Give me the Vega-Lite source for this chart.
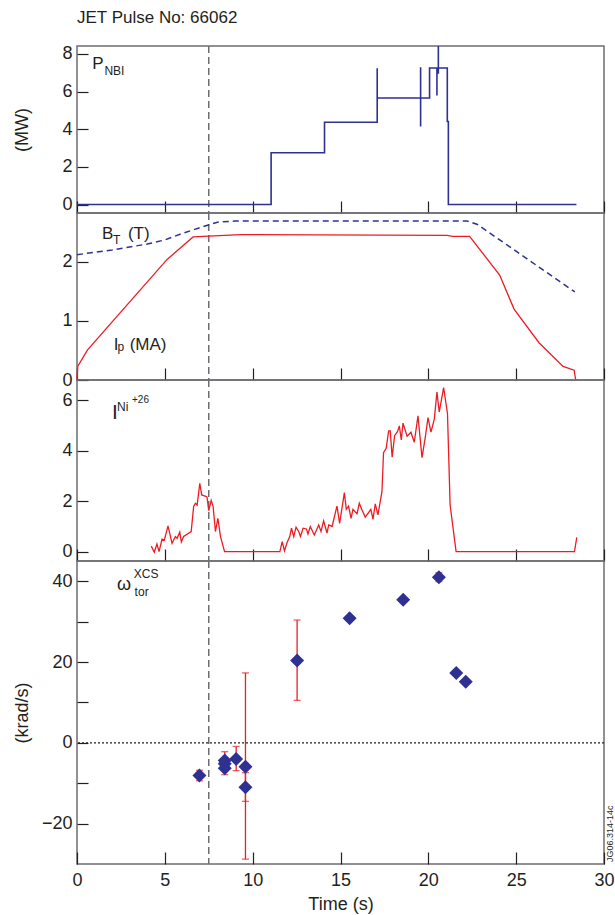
{
  "$schema": "https://vega.github.io/schema/vega-lite/v6.json",
  "padding": {"left": 12, "top": 9, "right": 5, "bottom": 5},
  "spacing": 0,
  "bounds": "flush",
  "title": {"text": "JET Pulse No: 66062", "anchor": "start", "frame": "group", "fontSize": 17, "fontWeight": "normal", "color": "#231f20", "offset": 17},
  "config": {
    "font": "Liberation Sans",
    "view": {"stroke": "#6d6e71", "strokeWidth": 1.5},
    "axis": {"grid": false, "labelFontSize": 18, "labelColor": "#231f20", "titleFontSize": 18, "titleFontWeight": "normal", "titleColor": "#231f20", "labelFlush": false, "labelOverlap": false, "labelBound": false, "tickColor": "#231f20", "tickWidth": 1.2, "domain": false}
  },
  "datasets": {
    "marker": [{"t": 7.5}],
    "zero": [{"v": 0}],
    "pnbi": [
      {"i": 0, "t": 0, "v": 0}, {"i": 1, "t": 11.05, "v": 0}, {"i": 2, "t": 11.05, "v": 2.75}, {"i": 3, "t": 14.09, "v": 2.75},
      {"i": 4, "t": 14.09, "v": 4.37}, {"i": 5, "t": 17.09, "v": 4.37}, {"i": 6, "t": 17.09, "v": 7.24}, {"i": 7, "t": 17.09, "v": 5.66},
      {"i": 8, "t": 19.56, "v": 5.66}, {"i": 9, "t": 19.56, "v": 7.29}, {"i": 10, "t": 19.56, "v": 4.14}, {"i": 11, "t": 19.56, "v": 5.66},
      {"i": 12, "t": 20.07, "v": 5.66}, {"i": 13, "t": 20.07, "v": 7.25}, {"i": 14, "t": 20.49, "v": 7.25}, {"i": 15, "t": 20.49, "v": 5.79},
      {"i": 16, "t": 20.49, "v": 7.25}, {"i": 17, "t": 20.57, "v": 7.25}, {"i": 18, "t": 20.57, "v": 8.42}, {"i": 19, "t": 20.57, "v": 6.94},
      {"i": 20, "t": 20.57, "v": 7.25}, {"i": 21, "t": 21.08, "v": 7.25}, {"i": 22, "t": 21.08, "v": 4.41}, {"i": 23, "t": 21.14, "v": 4.41},
      {"i": 24, "t": 21.14, "v": 0}, {"i": 25, "t": 28.43, "v": 0}
    ],
    "bt": [
      {"t": 0, "v": 2.12}, {"t": 2, "v": 2.2}, {"t": 4, "v": 2.3}, {"t": 5, "v": 2.37}, {"t": 6, "v": 2.48}, {"t": 7.56, "v": 2.63},
      {"t": 8, "v": 2.67}, {"t": 9, "v": 2.69}, {"t": 22.2, "v": 2.69}, {"t": 22.8, "v": 2.63}, {"t": 28.34, "v": 1.49}
    ],
    "ip": [
      {"t": 0, "v": 0}, {"t": 0.04, "v": 0.23}, {"t": 0.6, "v": 0.51}, {"t": 5.13, "v": 2.04}, {"t": 6.61, "v": 2.42}, {"t": 9.3, "v": 2.46},
      {"t": 21.08, "v": 2.445}, {"t": 21.37, "v": 2.43}, {"t": 22.35, "v": 2.43}, {"t": 24.06, "v": 1.775}, {"t": 24.88, "v": 1.2},
      {"t": 26.3, "v": 0.63}, {"t": 27.67, "v": 0.23}, {"t": 28.3, "v": 0.165}, {"t": 28.39, "v": 0}
    ],
    "ni": [
      {"t": 4.23, "v": 0.22}, {"t": 4.4, "v": -0.02}, {"t": 4.55, "v": 0.3}, {"t": 4.67, "v": 0.0}, {"t": 4.84, "v": 0.5}, {"t": 4.97, "v": 0.46},
      {"t": 5.18, "v": 1.02}, {"t": 5.41, "v": 0.33}, {"t": 5.6, "v": 0.6}, {"t": 5.7, "v": 0.53}, {"t": 5.85, "v": 0.78}, {"t": 5.94, "v": 0.39},
      {"t": 6.07, "v": 0.6}, {"t": 6.5, "v": 0.8}, {"t": 6.64, "v": 1.79}, {"t": 6.74, "v": 1.92}, {"t": 6.84, "v": 1.85}, {"t": 6.99, "v": 2.71},
      {"t": 7.1, "v": 2.25}, {"t": 7.29, "v": 2.2}, {"t": 7.4, "v": 2.17}, {"t": 7.5, "v": 1.63}, {"t": 7.64, "v": 2.03}, {"t": 7.75, "v": 1.79},
      {"t": 7.88, "v": 0.8}, {"t": 8.02, "v": 1.32}, {"t": 8.17, "v": 0.6}, {"t": 8.4, "v": 0.0}, {"t": 11.55, "v": 0.0}, {"t": 11.68, "v": 0.4},
      {"t": 11.81, "v": 0.03}, {"t": 11.96, "v": 0.36}, {"t": 12.11, "v": 0.6}, {"t": 12.21, "v": 0.93}, {"t": 12.34, "v": 0.6}, {"t": 12.47, "v": 0.97},
      {"t": 12.62, "v": 0.8}, {"t": 12.72, "v": 0.6}, {"t": 12.87, "v": 0.93}, {"t": 13.06, "v": 0.9}, {"t": 13.15, "v": 0.7}, {"t": 13.28, "v": 1.0},
      {"t": 13.51, "v": 0.66}, {"t": 13.76, "v": 1.06}, {"t": 13.89, "v": 0.8}, {"t": 14.04, "v": 1.22}, {"t": 14.23, "v": 0.74}, {"t": 14.33, "v": 1.06},
      {"t": 14.52, "v": 1.0}, {"t": 14.8, "v": 1.81}, {"t": 14.95, "v": 1.12}, {"t": 15.22, "v": 2.34}, {"t": 15.33, "v": 1.68}, {"t": 15.46, "v": 1.81},
      {"t": 15.6, "v": 1.32}, {"t": 15.71, "v": 1.68}, {"t": 15.94, "v": 1.5}, {"t": 16.07, "v": 1.92}, {"t": 16.22, "v": 1.66}, {"t": 16.41, "v": 1.37},
      {"t": 16.73, "v": 1.68}, {"t": 16.85, "v": 1.28}, {"t": 16.98, "v": 1.9}, {"t": 17.13, "v": 1.46}, {"t": 17.36, "v": 2.38}, {"t": 17.45, "v": 3.93},
      {"t": 17.6, "v": 4.1}, {"t": 17.74, "v": 4.79}, {"t": 17.83, "v": 4.79}, {"t": 17.94, "v": 3.75}, {"t": 18.08, "v": 4.6}, {"t": 18.25, "v": 4.77},
      {"t": 18.35, "v": 4.99}, {"t": 18.46, "v": 4.43}, {"t": 18.56, "v": 5.1}, {"t": 18.79, "v": 4.58}, {"t": 19.01, "v": 4.74}, {"t": 19.2, "v": 4.34},
      {"t": 19.41, "v": 5.39}, {"t": 19.64, "v": 3.73}, {"t": 19.83, "v": 4.55}, {"t": 19.98, "v": 5.32}, {"t": 20.15, "v": 4.74}, {"t": 20.34, "v": 5.26},
      {"t": 20.49, "v": 6.33}, {"t": 20.62, "v": 5.54}, {"t": 20.87, "v": 6.51}, {"t": 21.09, "v": 5.48}, {"t": 21.24, "v": 1.85}, {"t": 21.58, "v": 0.0},
      {"t": 28.32, "v": 0.0}, {"t": 28.45, "v": 0.57}
    ],
    "omega": [
      {"t": 6.97, "v": -8.1}, {"t": 8.41, "v": -4.4}, {"t": 8.41, "v": -5.2}, {"t": 8.41, "v": -6.3}, {"t": 9.06, "v": -4.0},
      {"t": 9.59, "v": -5.9}, {"t": 9.59, "v": -11.0}, {"t": 12.53, "v": 20.4}, {"t": 15.52, "v": 30.8}, {"t": 18.57, "v": 35.4},
      {"t": 20.6, "v": 41.0}, {"t": 21.59, "v": 17.3}, {"t": 22.13, "v": 15.1}
    ],
    "err": [
      {"t": 6.97, "lo": -9.4, "hi": -6.8}, {"t": 8.41, "lo": -7.9, "hi": -2.2}, {"t": 9.06, "lo": -6.9, "hi": -0.9},
      {"t": 9.59, "lo": -28.8, "hi": 17.3}, {"t": 9.59, "lo": -14.5, "hi": -7.4}, {"t": 12.53, "lo": 10.5, "hi": 30.4},
      {"t": 20.6, "lo": 39.9, "hi": 42.1}
    ],
    "labels": [
      {"p": 1, "k": "main", "t": 0.87, "v": 7.19, "txt": "P"},
      {"p": 1, "k": "sub", "t": 1.56, "v": 6.89, "txt": "NBI"},
      {"p": 2, "k": "main", "t": 1.42, "v": 2.39, "txt": "B"},
      {"p": 2, "k": "sub", "t": 2.05, "v": 2.305, "txt": "T"},
      {"p": 2, "k": "main", "t": 2.9, "v": 2.39, "txt": "(T)"},
      {"p": 2, "k": "main", "t": 2.09, "v": 0.514, "txt": "I"},
      {"p": 2, "k": "sub", "t": 2.3, "v": 0.486, "txt": "p"},
      {"p": 2, "k": "main", "t": 3.0, "v": 0.514, "txt": "(MA)"},
      {"p": 3, "k": "big", "t": 1.99, "v": 5.27, "txt": "I"},
      {"p": 3, "k": "sub", "t": 2.28, "v": 5.59, "txt": "Ni"},
      {"p": 3, "k": "tiny", "t": 3.13, "v": 5.89, "txt": "+26"},
      {"p": 4, "k": "main", "t": 2.28, "v": 37.8, "txt": "ω"},
      {"p": 4, "k": "sub", "t": 3.28, "v": 36.3, "txt": "tor"},
      {"p": 4, "k": "sub", "t": 3.23, "v": 40.7, "txt": "XCS"},
      {"p": 4, "k": "side", "t": 30.33, "v": -29.5, "txt": "JG06.314-14c"}
    ]
  },
  "vconcat": [
    {
      "width": 527, "height": 167,
      "layer": [
        {"data": {"name": "marker"}, "mark": {"type": "rule", "color": "#6d6e71", "strokeWidth": 1.5, "strokeDash": [7, 4]},
         "encoding": {"x": {"field": "t", "type": "quantitative", "scale": {"domain": [0, 30], "nice": false, "zero": false},
           "axis": {"values": [0, 5, 10, 15, 20, 25, 30], "labels": false, "title": null, "tickSize": -12}}}},
        {"data": {"name": "pnbi"}, "mark": {"type": "line", "color": "#2e3192", "strokeWidth": 1.6, "clip": true},
         "encoding": {"x": {"field": "t", "type": "quantitative"}, "order": {"field": "i", "type": "quantitative"},
           "y": {"field": "v", "type": "quantitative", "scale": {"domain": [-0.45, 8.42], "nice": false, "zero": false},
             "axis": {"values": [0, 2, 4, 6, 8], "format": "d", "title": "(MW)", "tickSize": -11, "labelPadding": 16, "titleX": -55, "titleBaseline": "middle"}}}},
        {"data": {"name": "labels"}, "transform": [{"filter": "datum.p === 1 && datum.k === 'main'"}],
         "mark": {"type": "text", "align": "left", "baseline": "alphabetic", "fontSize": 17, "color": "#231f20"},
         "encoding": {"x": {"field": "t", "type": "quantitative"}, "y": {"field": "v", "type": "quantitative"}, "text": {"field": "txt"}}},
        {"data": {"name": "labels"}, "transform": [{"filter": "datum.p === 1 && datum.k === 'sub'"}],
         "mark": {"type": "text", "align": "left", "baseline": "alphabetic", "fontSize": 12, "color": "#231f20"},
         "encoding": {"x": {"field": "t", "type": "quantitative"}, "y": {"field": "v", "type": "quantitative"}, "text": {"field": "txt"}}}
      ]
    },
    {
      "width": 527, "height": 167,
      "layer": [
        {"data": {"name": "marker"}, "mark": {"type": "rule", "color": "#6d6e71", "strokeWidth": 1.5, "strokeDash": [7, 4]},
         "encoding": {"x": {"field": "t", "type": "quantitative", "scale": {"domain": [0, 30], "nice": false, "zero": false},
           "axis": {"values": [0, 5, 10, 15, 20, 25, 30], "labels": false, "title": null, "tickSize": -12}}}},
        {"data": {"name": "bt"}, "mark": {"type": "line", "color": "#2e3192", "strokeWidth": 1.5, "strokeDash": [6, 4]},
         "encoding": {"x": {"field": "t", "type": "quantitative"},
           "y": {"field": "v", "type": "quantitative", "scale": {"domain": [0, 2.825], "nice": false, "zero": false},
             "axis": {"values": [0, 0.5, 1, 1.5, 2, 2.5], "format": "d", "labelExpr": "datum.value % 1 === 0 ? datum.label : ''", "title": null, "tickSize": -11, "labelPadding": 16}}}},
        {"data": {"name": "ip"}, "mark": {"type": "line", "color": "#ed1c24", "strokeWidth": 1.3},
         "encoding": {"x": {"field": "t", "type": "quantitative"}, "y": {"field": "v", "type": "quantitative"}}},
        {"data": {"name": "labels"}, "transform": [{"filter": "datum.p === 2 && datum.k === 'main'"}],
         "mark": {"type": "text", "align": "left", "baseline": "alphabetic", "fontSize": 17, "color": "#231f20"},
         "encoding": {"x": {"field": "t", "type": "quantitative"}, "y": {"field": "v", "type": "quantitative"}, "text": {"field": "txt"}}},
        {"data": {"name": "labels"}, "transform": [{"filter": "datum.p === 2 && datum.k === 'sub'"}],
         "mark": {"type": "text", "align": "left", "baseline": "alphabetic", "fontSize": 12, "color": "#231f20"},
         "encoding": {"x": {"field": "t", "type": "quantitative"}, "y": {"field": "v", "type": "quantitative"}, "text": {"field": "txt"}}}
      ]
    },
    {
      "width": 527, "height": 181,
      "layer": [
        {"data": {"name": "marker"}, "mark": {"type": "rule", "color": "#6d6e71", "strokeWidth": 1.5, "strokeDash": [7, 4]},
         "encoding": {"x": {"field": "t", "type": "quantitative", "scale": {"domain": [0, 30], "nice": false, "zero": false},
           "axis": {"values": [0, 5, 10, 15, 20, 25, 30], "labels": false, "title": null, "tickSize": -12}}}},
        {"data": {"name": "ni"}, "mark": {"type": "line", "color": "#ed1c24", "strokeWidth": 1.3},
         "encoding": {"x": {"field": "t", "type": "quantitative"},
           "y": {"field": "v", "type": "quantitative", "scale": {"domain": [-0.37, 6.81], "nice": false, "zero": false},
             "axis": {"values": [0, 2, 4, 6], "format": "d", "title": null, "tickSize": -11, "labelPadding": 16}}}},
        {"data": {"name": "labels"}, "transform": [{"filter": "datum.p === 3 && datum.k === 'big'"}],
         "mark": {"type": "text", "align": "left", "baseline": "alphabetic", "fontSize": 21, "color": "#231f20"},
         "encoding": {"x": {"field": "t", "type": "quantitative"}, "y": {"field": "v", "type": "quantitative"}, "text": {"field": "txt"}}},
        {"data": {"name": "labels"}, "transform": [{"filter": "datum.p === 3 && datum.k === 'sub'"}],
         "mark": {"type": "text", "align": "left", "baseline": "alphabetic", "fontSize": 12, "color": "#231f20"},
         "encoding": {"x": {"field": "t", "type": "quantitative"}, "y": {"field": "v", "type": "quantitative"}, "text": {"field": "txt"}}},
        {"data": {"name": "labels"}, "transform": [{"filter": "datum.p === 3 && datum.k === 'tiny'"}],
         "mark": {"type": "text", "align": "left", "baseline": "alphabetic", "fontSize": 10, "color": "#231f20"},
         "encoding": {"x": {"field": "t", "type": "quantitative"}, "y": {"field": "v", "type": "quantitative"}, "text": {"field": "txt"}}}
      ]
    },
    {
      "width": 527, "height": 303,
      "layer": [
        {"data": {"name": "marker"}, "mark": {"type": "rule", "color": "#6d6e71", "strokeWidth": 1.5, "strokeDash": [7, 4]},
         "encoding": {"x": {"field": "t", "type": "quantitative", "scale": {"domain": [0, 30], "nice": false, "zero": false},
           "axis": {"values": [0, 5, 10, 15, 20, 25, 30], "format": "d", "title": "Time (s)", "tickSize": -12, "labelPadding": 19, "titlePadding": 6}}}},
        {"data": {"name": "zero"}, "mark": {"type": "rule", "color": "#231f20", "strokeWidth": 1.3, "strokeDash": [2, 2]},
         "encoding": {"y": {"field": "v", "type": "quantitative", "scale": {"domain": [-30, 45], "nice": false, "zero": false},
             "axis": {"values": [-20, -10, 0, 10, 20, 30, 40], "format": "d", "labelExpr": "datum.value % 20 === 0 ? datum.label : ''", "title": "(krad/s)", "tickSize": -11, "labelPadding": 16, "titleX": -55, "titleBaseline": "middle"}}}},
        {"data": {"name": "err"}, "mark": {"type": "rule", "color": "#ed1c24", "strokeWidth": 1.3},
         "encoding": {"x": {"field": "t", "type": "quantitative"}, "y": {"field": "lo", "type": "quantitative"}, "y2": {"field": "hi"}}},
        {"data": {"name": "err"}, "mark": {"type": "tick", "color": "#ed1c24", "orient": "horizontal", "size": 7, "thickness": 1.3},
         "encoding": {"x": {"field": "t", "type": "quantitative"}, "y": {"field": "lo", "type": "quantitative"}}},
        {"data": {"name": "err"}, "mark": {"type": "tick", "color": "#ed1c24", "orient": "horizontal", "size": 7, "thickness": 1.3},
         "encoding": {"x": {"field": "t", "type": "quantitative"}, "y": {"field": "hi", "type": "quantitative"}}},
        {"data": {"name": "omega"}, "mark": {"type": "point", "shape": "diamond", "filled": true, "color": "#2e3192", "opacity": 1, "size": 196},
         "encoding": {"x": {"field": "t", "type": "quantitative"}, "y": {"field": "v", "type": "quantitative"}}},
        {"data": {"name": "labels"}, "transform": [{"filter": "datum.p === 4 && datum.k === 'main'"}],
         "mark": {"type": "text", "align": "left", "baseline": "alphabetic", "fontSize": 18, "color": "#231f20"},
         "encoding": {"x": {"field": "t", "type": "quantitative"}, "y": {"field": "v", "type": "quantitative"}, "text": {"field": "txt"}}},
        {"data": {"name": "labels"}, "transform": [{"filter": "datum.p === 4 && datum.k === 'sub'"}],
         "mark": {"type": "text", "align": "left", "baseline": "alphabetic", "fontSize": 12, "color": "#231f20"},
         "encoding": {"x": {"field": "t", "type": "quantitative"}, "y": {"field": "v", "type": "quantitative"}, "text": {"field": "txt"}}},
        {"data": {"name": "labels"}, "transform": [{"filter": "datum.p === 4 && datum.k === 'side'"}],
         "mark": {"type": "text", "align": "left", "baseline": "middle", "fontSize": 9, "angle": 270, "color": "#231f20"},
         "encoding": {"x": {"field": "t", "type": "quantitative"}, "y": {"field": "v", "type": "quantitative"}, "text": {"field": "txt"}}}
      ]
    }
  ]
}
